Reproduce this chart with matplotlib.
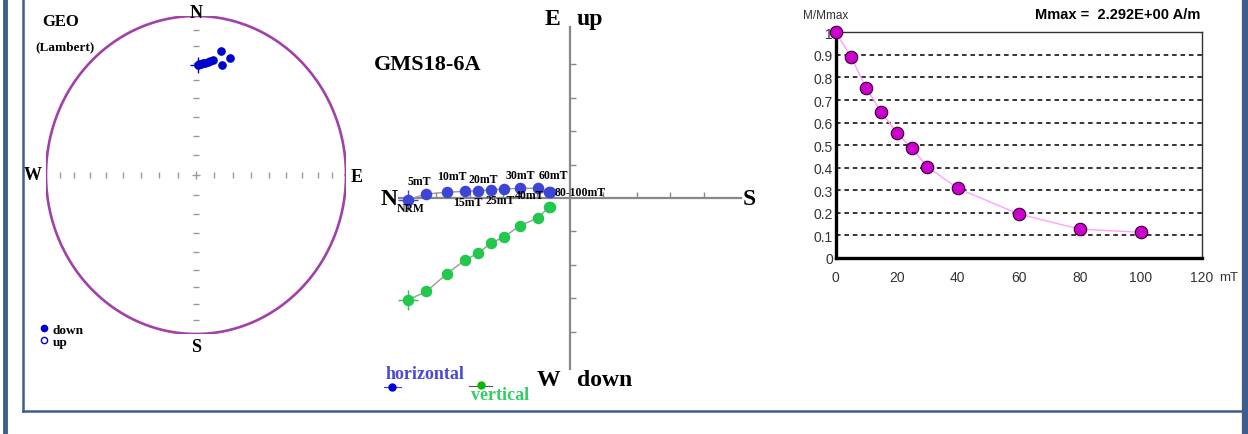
import numpy as np
import matplotlib
matplotlib.use("Agg")
import matplotlib.pyplot as plt
from matplotlib.lines import Line2D
from matplotlib.transforms import Affine2D

# demagnetisation steps (mT)
steps = [0, 5, 10, 15, 20, 25, 30, 40, 60, 80, 100]
step_labels = ["NRM", "5mT", "10mT", "15mT", "20mT", "25mT", "30mT", "40mT", "60mT", "80-100mT"]

# stereonet directions (GEO)
dec = [0.9, 1.5, 2.5, 3.8, 5.0, 6.4, 7.5, 8.9, 13.8, 17.3, 12.0]
inc = [31.2, 31.0, 30.5, 30.1, 29.8, 29.3, 28.5, 27.7, 29.3, 24.1, 21.2]

# Zijderveld components (A/m)
north = [1.937, 1.717, 1.477, 1.258, 1.099, 0.950, 0.787, 0.599, 0.387, 0.252, 0.245]
east = [-0.020, 0.048, 0.068, 0.080, 0.087, 0.096, 0.108, 0.116, 0.116, 0.075, 0.072]
down = [1.218, 1.118, 0.910, 0.743, 0.659, 0.543, 0.464, 0.332, 0.240, 0.111, 0.105]

# normalised intensity
m_norm = [1.0, 0.892, 0.753, 0.646, 0.555, 0.486, 0.405, 0.309, 0.195, 0.128, 0.114]
mmax = 2.292

W, H = 1248, 435
fig = plt.figure(figsize=(W / 100, H / 100), dpi=100)
pix = Affine2D().scale(1 / W, -1 / H).translate(0, 1) + fig.transFigure
serif = "Liberation Serif"
sans = "Liberation Sans"


def box(l, t, r, b):
    return [l / W, 1 - b / H, (r - l) / W, (b - t) / H]


# ---- page frame ----
frame_c = "#3C5E8F"
fig.add_artist(Line2D([5, 5], [0, H], transform=pix, color=frame_c, lw=3.5))
fig.add_artist(Line2D([1245, 1245], [0, H], transform=pix, color=frame_c, lw=4.5))
fig.add_artist(Line2D([23, 23], [0, 412], transform=pix, color=frame_c, lw=1.8))
fig.add_artist(Line2D([23, 1242], [412, 412], transform=pix, color=frame_c, lw=1.8))

# ---- stereonet ----
ax1 = fig.add_axes(box(46, 17, 346, 335))
ax1.set_xlim(-1, 1)
ax1.set_ylim(-1, 1)
ax1.axis("off")
t = np.linspace(0, 2 * np.pi, 400)
ax1.plot(np.cos(t), np.sin(t), color="#A040A8", lw=1.9)
rt = np.sqrt(2) * np.sin(np.radians(np.arange(10, 90, 10)) / 2)
ax1.plot(np.r_[rt, -rt], np.zeros(16), ls="", marker="|", ms=5, color="#999999", mew=1)
ax1.plot(np.zeros(16), np.r_[rt, -rt], ls="", marker="_", ms=5, color="#999999", mew=1)
ax1.plot([0], [0], marker="+", ms=6, color="#999999", mew=1)
r = np.sqrt(2) * np.sin(np.radians(90 - np.array(inc)) / 2)
sx = r * np.sin(np.radians(dec))
sy = r * np.cos(np.radians(dec))
ax1.plot(sx[0], sy[0], marker="+", ms=11, color="#0000CC", mew=1)
ax1.plot(sx, sy, ls="", marker="o", ms=5.2, color="#0000CC")
for s, x, y, ha in [("N", 0, 1.02, "center"), ("S", 0, -1.08, "center"),
                    ("W", -1.03, 0.0, "right"), ("E", 1.03, -0.01, "left")]:
    ax1.text(x, y, s, ha=ha, va="center", family=serif, weight="bold", fontsize=13, clip_on=False)
fig.text(61 / W, 1 - 22 / H, "GEO", ha="center", va="center", family=serif, weight="bold", fontsize=12)
fig.text(65 / W, 1 - 47 / H, "(Lambert)", ha="center", va="center", family=serif, weight="bold", fontsize=9.5)
hd = [Line2D([], [], ls="", marker="o", ms=4.5, color="#0000CC"),
      Line2D([], [], ls="", marker="o", ms=4.5, mfc="white", mec="#0000CC", mew=1)]
fig.legend(hd, ["down", "up"], loc="upper left", bbox_to_anchor=(33, 318), bbox_transform=pix,
           frameon=False, handlelength=0.6, handletextpad=0.4, labelspacing=0.0, borderpad=0,
           prop={"family": serif, "weight": "bold", "size": 9.5})

# ---- Zijderveld ----
scale = 83.6
ax2 = fig.add_axes(box(570 - 2.1 * scale, 199 - 2.1 * scale, 570 + 2.1 * scale, 199 + 2.1 * scale))
ax2.set_xlim(-2.1, 2.1)
ax2.set_ylim(-2.1, 2.1)
ax2.patch.set_alpha(0)
for k in ["top", "right"]:
    ax2.spines[k].set_visible(False)
for k in ["left", "bottom"]:
    ax2.spines[k].set_position("zero")
    ax2.spines[k].set_bounds(-2.04, 2.04)
    ax2.spines[k].set_color("#888888")
    ax2.spines[k].set_linewidth(1.6)
tk = [-1.6, -1.2, -0.8, -0.4, 0.4, 0.8, 1.2, 1.6]
ax2.set_xticks(tk)
ax2.set_yticks(tk)
ax2.tick_params(direction="in", length=4, width=1, color="#888888", labelleft=False, labelbottom=False)
hx = -np.array(north)
blue = "#3D45D4"
green = "#22C84E"
ax2.plot(hx, east, color="#999999", lw=1, zorder=3)
ax2.plot(hx, -np.array(down), color="#999999", lw=1, zorder=3)
ax2.plot(hx[0], east[0], marker="+", ms=15, color=blue, mew=1, zorder=4)
ax2.plot(hx[0], -down[0], marker="+", ms=15, color=green, mew=1, zorder=4)
ax2.plot(hx, east, ls="", marker="o", ms=7.3, color=blue, zorder=5)
ax2.plot(hx, -np.array(down), ls="", marker="o", ms=7.3, color=green, zorder=5)
label_offsets = [(3, -8), (-7, 13), (5, 16), (3, -11), (5, 12), (10, -10), (16, 14), (10, -7), (16, 13), (31, 0)]
for lab, (dx, dy), x, y in zip(step_labels, label_offsets, hx, east):
    ax2.annotate(lab, (x, y), xytext=(dx, dy), textcoords="offset pixels", ha="center", va="center",
                 family=serif, weight="bold", fontsize=8.5, zorder=6)
big = dict(family=serif, weight="bold", fontsize=17, va="center")
ax2.text(-0.12, 2.15, "E", ha="right", **big)
ax2.text(0.08, 2.15, "up", ha="left", **big)
ax2.text(-0.12, -2.17, "W", ha="right", **big)
ax2.text(0.08, -2.17, "down", ha="left", **big)
ax2.text(-2.06, -0.01, "N", ha="right", **big)
ax2.text(2.07, -0.01, "S", ha="left", **big)
ax2.text(-2.35, 1.6, "GMS18-6A", ha="left", va="center", family=serif, weight="bold", fontsize=16)
fig.text(425 / W, 1 - 375 / H, "horizontal", ha="center", va="center", color="#4A4AD8",
         family=serif, weight="bold", fontsize=13)
fig.text(500 / W, 1 - 396 / H, "vertical", ha="center", va="center", color="#33CC66",
         family=serif, weight="bold", fontsize=13)
fig.add_artist(Line2D([384, 401], [388, 388], transform=pix, color=blue, lw=0.8))
fig.add_artist(Line2D([392], [388], transform=pix, color="#0000DD", marker="o", ms=5))
fig.add_artist(Line2D([469, 492], [387, 387], transform=pix, color="#555555", lw=0.8))
fig.add_artist(Line2D([481], [386], transform=pix, color="#00BB00", marker="o", ms=5))

# ---- intensity decay ----
ax3 = fig.add_axes(box(835.7, 33.3, 1201.7, 259))
ax3.set_xlim(0, 120)
ax3.set_ylim(0, 1)
ax3.plot(steps, m_norm, color="#FFA0FF", lw=1, zorder=3)
ax3.plot(steps, m_norm, ls="", marker="o", ms=9, mfc="#CC00CC", mec="#330033", mew=0.8,
         clip_on=False, zorder=4)
ax3.set_yticks(np.arange(0, 1.01, 0.1))
ax3.set_yticklabels(["0", "0.1", "0.2", "0.3", "0.4", "0.5", "0.6", "0.7", "0.8", "0.9", "1"])
ax3.set_xticks(np.arange(0, 121, 20))
ax3.tick_params(length=0, labelsize=10, labelcolor="#333333")
ax3.tick_params(axis="x", pad=9)
ax3.tick_params(axis="y", pad=2)
for lbl in ax3.get_xticklabels() + ax3.get_yticklabels():
    lbl.set_family(sans)
for yv in np.arange(0.1, 0.95, 0.1):
    ax3.axhline(yv, color="black", lw=1.1, ls=(0, (3, 2.5)), zorder=1)
ax3.spines["left"].set_linewidth(2.4)
ax3.spines["bottom"].set_linewidth(2.4)
ax3.spines["top"].set_linewidth(1)
ax3.spines["right"].set_linewidth(1)
ax3.spines["top"].set_color("#333333")
ax3.spines["right"].set_color("#333333")
ax3.text(1.075, -0.085, "mT", transform=ax3.transAxes, ha="center", va="center",
         family=sans, fontsize=9.5, color="#333333")
fig.text(803 / W, 1 - 16 / H, "M/Mmax", ha="left", va="center", family=sans, fontsize=8.5, color="#333333")
fig.text(1200 / W, 1 - 15 / H, "Mmax =  %.3fE+00 A/m" % mmax, ha="right", va="center",
         family=sans, weight="bold", fontsize=10.5)

fig.savefig("out.png", dpi=100)
